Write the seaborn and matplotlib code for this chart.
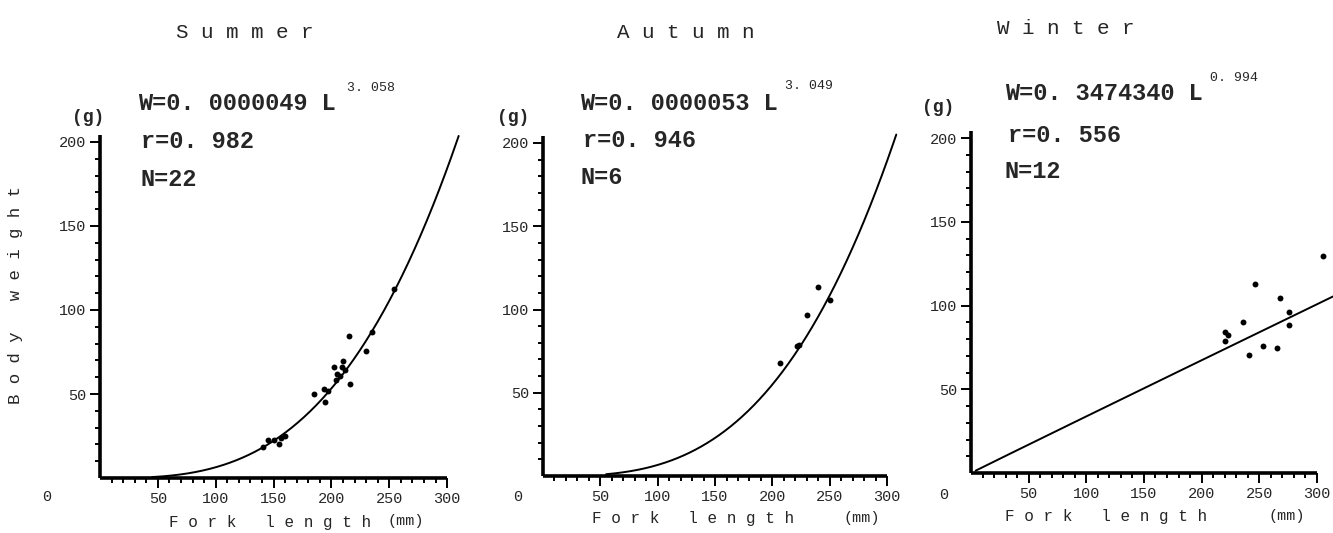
import numpy as np
import pandas as pd
import matplotlib
matplotlib.use("Agg")
import matplotlib.pyplot as plt
from matplotlib.ticker import FixedLocator
import seaborn as sns

# ---------------- data ----------------
seasons = ["Summer", "Autumn", "Winter"]

summer_len = [141, 145.5, 150.7, 155, 156.4, 160, 185.2, 193.6, 194.2, 197, 202.2,
              204, 204.5, 207.4, 209.2, 210.3, 212, 215.2, 216.1, 229.6, 235.4, 253.8]
summer_wt = [18.3, 22.6, 22.6, 20, 24, 25, 49.8, 53.2, 45.2, 52, 66.3,
             58.3, 61.9, 60.9, 66.3, 69.8, 64, 84.7, 56, 75.8, 87.1, 112.3]

autumn_len = [207, 221.8, 223, 230.5, 239.8, 250.6]
autumn_wt = [67.9, 77.8, 78.5, 96.4, 113.8, 105.8]

winter_len = [220, 220.7, 222.7, 236, 241, 246, 253, 265, 267.7, 275.5, 276, 305]
winter_wt = [79, 84, 82.6, 90, 70.4, 113, 75.6, 74.4, 104.6, 96, 88.4, 129.6]

coef_a = [0.0000049, 0.0000053, 0.3474340]
coef_b = [3.058, 3.049, 0.994]
coef_a_txt = ["0. 0000049", "0. 0000053", "0. 3474340"]
coef_b_txt = ["3. 058", "3. 049", "0. 994"]
r_txt = ["0. 982", "0. 946", "0. 556"]
n_txt = ["22", "6", "12"]
curve_from = [45, 55, 4]
curve_to = [310, 308, 314]

x_ticks = [50, 100, 150, 200, 250, 300]
y_ticks = [50, 100, 150, 200]
x_minor = [v for v in range(10, 301, 10) if v % 50]
y_minor = [v for v in range(10, 201, 10) if v % 50]

points = [(summer_len, summer_wt), (autumn_len, autumn_wt), (winter_len, winter_wt)]

# ---------------- layout (pixel based) ----------------
W, H = 1333, 533
sns.set_style("ticks")
plt.rcParams["font.family"] = ["Liberation Mono", "DejaVu Sans Mono"]

fig = plt.figure(figsize=(W / 100, H / 100), dpi=100)
fig.patch.set_facecolor("white")

# origin px, px per unit x, px per unit y
geom = [(100, 478, 1.157, 1.68), (543, 476, 1.147, 1.665), (971, 473, 1.153, 1.675)]
XMAX, YMAX = 314, 212

title_pos = [(245, 33), (686, 33), (1066, 28)]
eq_pos = [(138, 103, 347, 88, 141, 142, 140, 180),
          (580, 103, 785, 86, 583, 140, 581, 177),
          (1005, 93, 1210, 78, 1008, 135, 1005, 172)]
g_pos = [(72, 117), (497, 117), (922, 107)]
zero_pos = [(47, 497), (518, 497), (944, 495)]
fork_pos = [(270, 522, 406, 521), (693, 519, 862, 518), (1106, 517, 1287, 516)]

def fx(px):
    return px / W

def fy(py):
    return 1 - py / H

for i in range(3):
    x0, y0, sx, sy = geom[i]
    ax = fig.add_axes([fx(x0), fy(y0), XMAX * sx / W, YMAX * sy / H])
    ax.set_xlim(0, XMAX)
    ax.set_ylim(0, YMAX)

    lx, ly = points[i]
    df = pd.DataFrame({"L": lx, "W": ly})
    sns.scatterplot(data=df, x="L", y="W", ax=ax, color="black", s=18,
                    marker="o", linewidth=0, zorder=3)

    L = np.linspace(curve_from[i], curve_to[i], 300)
    cdf = pd.DataFrame({"L": L, "W": coef_a[i] * L ** coef_b[i]})
    sns.lineplot(data=cdf, x="L", y="W", ax=ax, color="black", linewidth=1.4,
                 zorder=2, clip_on=False)

    for s in ["top", "right"]:
        ax.spines[s].set_visible(False)
    for s in ["left", "bottom"]:
        ax.spines[s].set_linewidth(2.6)
        ax.spines[s].set_color("black")
        ax.spines[s].set_capstyle("butt")
    ax.spines["bottom"].set_bounds(0, 300)
    ax.spines["left"].set_bounds(0, 204)

    ax.xaxis.set_major_locator(FixedLocator(x_ticks))
    ax.yaxis.set_major_locator(FixedLocator(y_ticks))
    ax.xaxis.set_minor_locator(FixedLocator(x_minor))
    ax.yaxis.set_minor_locator(FixedLocator(y_minor))
    ax.tick_params(axis="both", which="both", bottom=True, left=True,
                   top=False, right=False)
    ax.tick_params(axis="both", which="major", direction="out", length=7,
                   width=1.4, color="black", labelsize=11, pad=3)
    ax.tick_params(axis="both", which="minor", direction="out", length=3.5,
                   width=1.4, color="black")
    ax.set_xlabel("")
    ax.set_ylabel("")
    ax.set_xticklabels([str(t) for t in x_ticks])
    ax.set_yticklabels([str(t) for t in y_ticks])
    ax.patch.set_alpha(0)

    # title
    tx, ty = title_pos[i]
    fig.text(fx(tx), fy(ty), " ".join(seasons[i]), ha="center", va="center",
             fontsize=15)

    # equation
    ex, ey, sxp, syp, rx, ry, nx, ny = eq_pos[i]
    fig.text(fx(ex), fy(ey), "W=" + coef_a_txt[i] + " L", ha="left", va="center",
             fontsize=17, fontweight="bold")
    fig.text(fx(sxp), fy(syp), coef_b_txt[i], ha="left", va="center", fontsize=9.5)
    fig.text(fx(rx), fy(ry), "r=" + r_txt[i], ha="left", va="center",
             fontsize=17, fontweight="bold")
    fig.text(fx(nx), fy(ny), "N=" + n_txt[i], ha="left", va="center",
             fontsize=17, fontweight="bold")

    gx, gy = g_pos[i]
    fig.text(fx(gx), fy(gy), "(g)", ha="left", va="center", fontsize=13,
             fontweight="bold")
    zx, zy = zero_pos[i]
    fig.text(fx(zx), fy(zy), "0", ha="center", va="center", fontsize=11)

    f1x, f1y, f2x, f2y = fork_pos[i]
    fig.text(fx(f1x), fy(f1y), "F o r k   l e n g t h", ha="center", va="center",
             fontsize=11.5)
    fig.text(fx(f2x), fy(f2y), "(mm)", ha="center", va="center", fontsize=11)

fig.text(fx(16), fy(295), "B o d y   w e i g h t", rotation=90, ha="center",
         va="center", fontsize=12.5)

fig.savefig("out.png", dpi=100, facecolor="white")
